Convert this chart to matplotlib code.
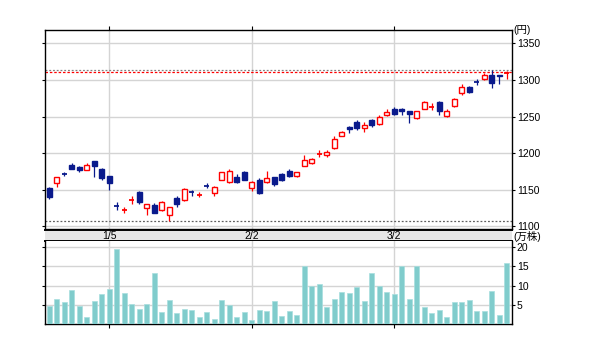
import matplotlib
matplotlib.use('Agg')
import matplotlib.pyplot as plt
import numpy as np

plt.rcParams['font.family'] = ['Liberation Sans', 'Noto Sans CJK JP']
plt.rcParams['font.size'] = 7.5

# daily candles (yen)
opens = [1152, 1160, 1172, 1184, 1181, 1177, 1189, 1179, 1169, 1128,
         1122, 1135, 1147, 1125, 1129, 1122, 1116, 1139, 1136, 1147,
         1143, 1156, 1146, 1164, 1161, 1168, 1175, 1153, 1164, 1161,
         1167, 1172, 1176, 1169, 1183, 1186, 1199, 1198, 1207, 1223,
         1236, 1243, 1235, 1245, 1240, 1252, 1260, 1261, 1257, 1248,
         1261, 1263, 1270, 1251, 1264, 1282, 1290, 1298, 1301, 1307,
         1307, 1309]
highs = [1154, 1168, 1175, 1186, 1182, 1187, 1189, 1180, 1169, 1133,
         1127, 1141, 1148, 1131, 1132, 1135, 1127, 1141, 1153, 1150,
         1147, 1159, 1155, 1175, 1179, 1172, 1176, 1162, 1166, 1176,
         1168, 1173, 1178, 1175, 1197, 1194, 1204, 1204, 1223, 1230,
         1237, 1245, 1242, 1247, 1252, 1260, 1263, 1262, 1257, 1258,
         1272, 1268, 1272, 1261, 1276, 1295, 1292, 1301, 1309, 1314,
         1307, 1312]
lows = [1137, 1154, 1169, 1178, 1175, 1177, 1167, 1164, 1150, 1122,
        1119, 1131, 1131, 1116, 1118, 1121, 1107, 1127, 1135, 1141,
        1140, 1152, 1142, 1163, 1160, 1160, 1163, 1149, 1144, 1160,
        1155, 1162, 1168, 1167, 1183, 1185, 1195, 1195, 1206, 1223,
        1227, 1232, 1229, 1236, 1239, 1251, 1252, 1252, 1241, 1247,
        1260, 1259, 1252, 1250, 1263, 1280, 1282, 1293, 1300, 1289,
        1294, 1302]
closes = [1140, 1168, 1171, 1179, 1177, 1184, 1182, 1166, 1159, 1127,
          1123, 1136, 1133, 1131, 1119, 1134, 1127, 1130, 1151, 1146,
          1144, 1155, 1154, 1174, 1176, 1161, 1164, 1161, 1146, 1166,
          1158, 1164, 1169, 1174, 1191, 1192, 1200, 1202, 1219, 1229,
          1233, 1235, 1239, 1239, 1250, 1256, 1254, 1258, 1254, 1258,
          1270, 1264, 1257, 1258, 1274, 1290, 1283, 1297, 1307, 1296,
          1305, 1310]
# volume (10k shares)
volumes = [4.8, 6.4, 5.8, 8.9, 4.8, 1.9, 6.1, 7.8, 9.2, 19.6,
           8.1, 5.3, 3.9, 5.3, 13.4, 3.0, 6.2, 2.8, 3.8, 3.7,
           1.7, 3.0, 1.4, 6.2, 5.0, 1.7, 3.0, 1.0, 3.6, 3.4,
           5.9, 2.0, 3.4, 2.3, 15.0, 9.9, 10.4, 4.5, 6.5, 8.4,
           8.1, 9.6, 5.9, 13.2, 10.0, 8.2, 7.8, 15.1, 6.5, 15.1,
           4.5, 2.8, 3.7, 1.7, 5.7, 5.7, 6.2, 3.4, 3.4, 8.7,
           2.3, 15.9]

date_idx = [8, 27, 46]
date_labels = ['1/5', '2/2', '3/2']
price_ticks = [1100, 1150, 1200, 1250, 1300, 1350]
vol_ticks = [5, 10, 15, 20]
high_line = 1314
last_line = 1311
low_line = 1107

up_col = '#ff0000'
down_col = '#0a1a8c'
grid_col = '#d4d4d4'
vol_col = '#80cccc'

W, H = 600, 354
fig = plt.figure(figsize=(W / 100, H / 100), dpi=100)

def box(l, t, r, b):
    return [l / W, 1 - b / H, (r - l) / W, (b - t) / H]

ax = fig.add_axes(box(45, 30, 512, 229))
strip = fig.add_axes(box(45, 230, 512, 241))
axv = fig.add_axes(box(45, 241, 512, 324))

n = len(opens)
x = np.arange(n)
xlim = (-0.57, 61.7)

# price panel
for i in range(n):
    o, h, l, c = opens[i], highs[i], lows[i], closes[i]
    col = up_col if c >= o else down_col
    ax.vlines(i, l, h, color=col, linewidth=0.9, zorder=3)
    if abs(c - o) < 1.5:
        ax.hlines((o + c) / 2, i - 0.35, i + 0.35, color=col, linewidth=1.3, zorder=4)
    else:
        fc = 'white' if c >= o else down_col
        ax.bar(i, abs(c - o), bottom=min(o, c), width=0.62, facecolor=fc,
               edgecolor=col, linewidth=1.0, zorder=4)

ax.axhline(high_line, color='#808080', linestyle=(0, (1.5, 1.5)), linewidth=0.9, zorder=2)
ax.axhline(last_line, color='#ff0000', linestyle=(0, (2, 1.5)), linewidth=0.9, zorder=2)
ax.axhline(low_line, color='#606060', linestyle=(0, (1.5, 1.5)), linewidth=0.9, zorder=2)

ax.set_xlim(*xlim)
ax.set_ylim(1096.5, 1368.3)
ax.set_yticks(price_ticks)
ax.set_xticks(date_idx)
ax.grid(True, color=grid_col, linewidth=1.0, zorder=0)
ax.set_axisbelow(True)
ax.tick_params(axis='y', left=True, right=True, labelleft=False, labelright=True,
               length=2.5, width=0.8, pad=1)
ax.tick_params(axis='x', top=True, bottom=False, labelbottom=False, length=3, width=0.8)
ax.text(1.002, 1.0, '(円)', transform=ax.transAxes, ha='left', va='center', fontsize=7.5)

# date strip
strip.set_xlim(*xlim)
strip.set_ylim(0, 1)
strip.set_facecolor('#e6e6e6')
strip.set_xticks([])
strip.set_yticks([])
for s in ['left', 'right']:
    strip.spines[s].set_visible(False)
for s in ['top', 'bottom']:
    strip.spines[s].set_linewidth(1.4)
for xi, lab in zip(date_idx, date_labels):
    strip.text(xi, 0.45, lab, ha='center', va='center', fontsize=7.5)
strip.text(1.002, 0.4, '(万株)', transform=strip.transAxes, ha='left', va='center', fontsize=7.5)

# volume panel
axv.bar(x, volumes, width=0.62, color=vol_col, edgecolor='#a8dede', linewidth=0.5, zorder=3)
axv.set_xlim(*xlim)
axv.set_ylim(0, 21.6)
axv.set_yticks(vol_ticks)
axv.set_xticks(date_idx)
axv.grid(True, color=grid_col, linewidth=1.0, zorder=0)
axv.set_axisbelow(True)
axv.spines['top'].set_visible(False)
axv.tick_params(axis='y', left=True, right=True, labelleft=False, labelright=True,
                length=2.5, width=0.8, pad=1)
axv.tick_params(axis='x', bottom=True, labelbottom=False, length=3, width=0.8)

for a in (ax, axv):
    for s in a.spines.values():
        s.set_linewidth(1.0)

fig.savefig('out.png', dpi=100)
